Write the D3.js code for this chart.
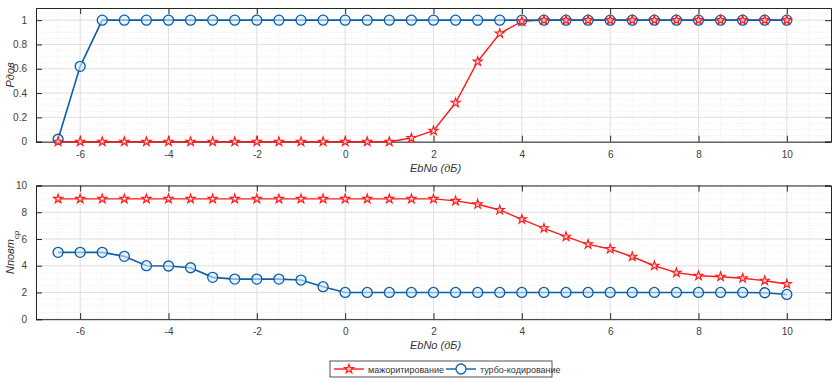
<!DOCTYPE html>
<html>
<head>
<meta charset="utf-8">
<script src="https://cdn.jsdelivr.net/npm/d3@7"></script>
<style>
  body { margin: 0; background: #fff; }
  text { font-family: "Liberation Sans", Arial, sans-serif; }
  .tick text { fill: #404040; font-size: 10px; }
  .grid-major line { stroke: #e0e0e0; stroke-width: 1; }
  .grid-minor line { stroke: #e8e8e8; stroke-width: 0.8; stroke-dasharray: 1,1.5; }
</style>
</head>
<body>
<svg id="chart" width="840" height="388"></svg>
<script>
// EbNo values (dB)
const ebno = [-6.5, -6, -5.5, -5, -4.5, -4, -3.5, -3, -2.5, -2, -1.5, -1, -0.5, 0,
  0.5, 1, 1.5, 2, 2.5, 3, 3.5, 4, 4.5, 5, 5.5, 6, 6.5, 7, 7.5, 8, 8.5, 9, 9.5, 10];

// Pдов
const pMajor = [0, 0, 0, 0, 0, 0, 0, 0, 0, 0, 0, 0, 0, 0,
  0, 0, 0.03, 0.09, 0.32, 0.66, 0.89, 0.99, 1, 1, 1, 1, 1, 1, 1, 1, 1, 1, 1, 1];
const pTurbo = [0.02, 0.62, 1, 1, 1, 1, 1, 1, 1, 1, 1, 1, 1, 1,
  1, 1, 1, 1, 1, 1, 1, 1, 1, 1, 1, 1, 1, 1, 1, 1, 1, 1, 1, 1];

// Nповт ср
const nMajor = [9, 9, 9, 9, 9, 9, 9, 9, 9, 9, 9, 9, 9, 9,
  9, 9, 9, 9, 8.85, 8.6, 8.17, 7.47, 6.8, 6.17, 5.6, 5.25, 4.67, 4.0, 3.48, 3.25, 3.18, 3.06, 2.88, 2.63];
const nTurbo = [5, 5, 5, 4.7, 4.0, 3.98, 3.85, 3.13, 3.0, 3.0, 3.0, 2.93, 2.43, 2.0,
  2, 2, 2, 2, 2, 2, 2, 2, 2, 2, 2, 2, 2, 2, 2, 2, 2, 2, 1.98, 1.85];

const xTicks = [-6, -4, -2, 0, 2, 4, 6, 8, 10];
const pTicks = [0, 0.2, 0.4, 0.6, 0.8, 1];
const nTicks = [0, 2, 4, 6, 8, 10];

const seriesNames = ["мажоритирование", "турбо-кодирование"];
const red = "#ff1a1a", blue = "#0b5ea8";

const svg = d3.select("#chart");
const left = 36, right = 831;

const x = d3.scaleLinear().domain([-7, 11]).range([left, right]);
const star = d3.symbol().type(d3.symbolStar).size(26);

function drawPanel(top, bottom, yDomain, yTicks, yMinorStep, majorVals, turboVals, ylabel, sub) {
    const y = d3.scaleLinear().domain(yDomain).range([bottom, top]);
    const g = svg.append("g");

    // minor grid
    const xMinor = d3.range(-7, 11.001, 0.5);
    const yMinor = d3.range(yDomain[0], yDomain[1] + 1e-9, yMinorStep);
    g.append("g").attr("class", "grid-minor")
        .selectAll("line").data(xMinor).enter().append("line")
        .attr("x1", d => x(d)).attr("x2", d => x(d)).attr("y1", top).attr("y2", bottom);
    g.append("g").attr("class", "grid-minor")
        .selectAll("line").data(yMinor).enter().append("line")
        .attr("x1", left).attr("x2", right).attr("y1", d => y(d)).attr("y2", d => y(d));

    // major grid
    g.append("g").attr("class", "grid-major")
        .selectAll("line").data(xTicks).enter().append("line")
        .attr("x1", d => x(d)).attr("x2", d => x(d)).attr("y1", top).attr("y2", bottom);
    g.append("g").attr("class", "grid-major")
        .selectAll("line").data(yTicks).enter().append("line")
        .attr("x1", left).attr("x2", right).attr("y1", d => y(d)).attr("y2", d => y(d));

    // axes
    const xAxis = d3.axisBottom(x).tickValues(xTicks).tickSize(-6).tickPadding(9)
        .tickFormat(d => String(d));
    const yAxis = d3.axisLeft(y).tickValues(yTicks).tickSize(-6).tickPadding(9)
        .tickFormat(d => String(d));
    const ax = g.append("g").attr("transform", `translate(0,${bottom})`).call(xAxis);
    const ay = g.append("g").attr("transform", `translate(${left},0)`).call(yAxis);
    const axTop = g.append("g").attr("transform", `translate(0,${top})`)
        .call(d3.axisTop(x).tickValues(xTicks).tickSize(-6).tickFormat(""));
    const ayRight = g.append("g").attr("transform", `translate(${right},0)`)
        .call(d3.axisRight(y).tickValues(yTicks).tickSize(-6).tickFormat(""));
    [ax, ay, axTop, ayRight].forEach(a => {
        a.select(".domain").attr("stroke", "#262626");
        a.selectAll(".tick line").attr("stroke", "#262626");
    });

    // x label
    g.append("text")
        .attr("x", (x(-7) + x(11)) / 2 + 2).attr("y", bottom + 30)
        .attr("text-anchor", "middle").attr("font-size", 11).attr("font-style", "italic")
        .attr("fill", "#333")
        .text("EbNo (дБ)");

    // y label
    const yl = g.append("text")
        .attr("transform", `translate(14,${(top + bottom) / 2}) rotate(-90)`)
        .attr("text-anchor", "middle").attr("font-size", 11).attr("font-style", "italic")
        .attr("fill", "#333")
        .text(ylabel);
    if (sub) {
        yl.append("tspan").attr("baseline-shift", "sub").attr("font-size", 8).text(sub);
    }

    const line = d3.line().x((d, i) => x(ebno[i])).y(d => y(d));

    // majority (red stars)
    g.append("path").datum(majorVals)
        .attr("fill", "none").attr("stroke", red).attr("stroke-width", 1.4)
        .attr("d", line);
    // turbo (blue circles)
    g.append("path").datum(turboVals)
        .attr("fill", "none").attr("stroke", blue).attr("stroke-width", 1.6)
        .attr("d", line);

    g.selectAll("circle.turbo").data(turboVals).enter().append("circle")
        .attr("class", "turbo")
        .attr("cx", (d, i) => x(ebno[i])).attr("cy", d => y(d)).attr("r", 5)
        .attr("fill", "#d9ecfb").attr("fill-opacity", 0.6)
        .attr("stroke", blue).attr("stroke-width", 1.3);

    g.selectAll("path.major").data(majorVals).enter().append("path")
        .attr("class", "major")
        .attr("transform", (d, i) => `translate(${x(ebno[i])},${y(d)})`)
        .attr("d", star)
        .attr("fill", "#ffc4c4").attr("stroke", red).attr("stroke-width", 1.1);
}

drawPanel(8, 141.7, [0, 1.1], pTicks, 0.05, pMajor, pTurbo, "Pдов", null);
drawPanel(185.5, 319.2, [0, 10], nTicks, 0.5, nMajor, nTurbo, "Nповт", "ср");

// legend
const lg = svg.append("g").attr("transform", "translate(330,361)");
lg.append("rect").attr("width", 222).attr("height", 16)
    .attr("fill", "#fff").attr("stroke", "#262626").attr("stroke-width", 0.8);
const items = [
    { name: seriesNames[0], color: red, shape: "star", x: 4 },
    { name: seriesNames[1], color: blue, shape: "circle", x: 116 }
];
items.forEach(d => {
    const it = lg.append("g").attr("transform", `translate(${d.x},8)`);
    it.append("line").attr("x1", 0).attr("x2", 30).attr("stroke", d.color).attr("stroke-width", 1.4);
    if (d.shape === "star") {
        it.append("path").attr("transform", "translate(15,0)")
            .attr("d", star)
            .attr("fill", "#ffc4c4").attr("stroke", d.color).attr("stroke-width", 1.1);
    } else {
        it.append("circle").attr("cx", 15).attr("r", 5)
            .attr("fill", "#fff").attr("stroke", d.color).attr("stroke-width", 1.3);
    }
    it.append("text").attr("x", 34).attr("y", 3.5)
        .attr("font-size", 9).attr("fill", "#333").text(d.name);
});
</script>
</body>
</html>
